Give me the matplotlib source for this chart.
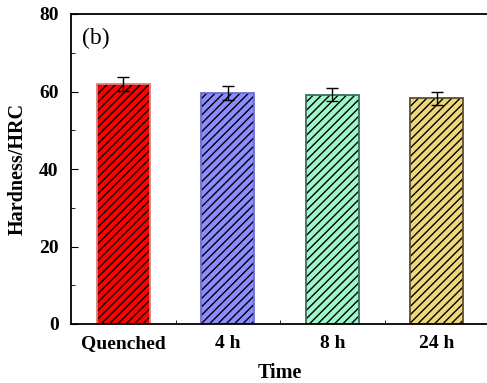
import matplotlib
matplotlib.use("Agg")
import matplotlib.pyplot as plt
from matplotlib.ticker import MultipleLocator

categories = ["Quenched", "4 h", "8 h", "24 h"]
hardness = [62.0, 59.6, 59.2, 58.2]
errors = [1.8, 1.7, 1.7, 1.8]
face_colors = ["#FF0000", "#8C8CFF", "#9EF7CB", "#EDD77A"]
edge_colors = ["#D98080", "#6A6AD8", "#3C6E55", "#5A5030"]

plt.rcParams["font.family"] = ["Liberation Serif", "DejaVu Serif"]
plt.rcParams["font.weight"] = "bold"
plt.rcParams["hatch.linewidth"] = 1.0

fig = plt.figure(figsize=(4.87, 3.83), dpi=100)
ax = fig.add_axes([71 / 487, 1 - 324 / 383, (489 - 71) / 487, (324 - 14) / 383])

x = list(range(len(categories)))
# filled bars with black diagonal hatching
ax.bar(x, hardness, width=0.51, color=face_colors, edgecolor="black",
       linewidth=0, hatch="////", zorder=2)
# coloured outlines on top
ax.bar(x, hardness, width=0.51, fill=False, edgecolor=edge_colors,
       linewidth=1.3, zorder=2.5)
ax.errorbar(x, hardness, yerr=errors, fmt="none", ecolor="black",
            elinewidth=1.0, capsize=4, capthick=1.0, zorder=3)

ax.set_xlim(-0.5, 3.5)
ax.set_ylim(0, 80)
ax.set_xticks([0, 1, 2, 3])
ax.set_xticklabels(categories, fontsize=14, fontweight="bold")
ax.set_xticks([0.5, 1.5, 2.5], minor=True)
ax.tick_params(axis="x", which="major", length=0, pad=8)
ax.tick_params(axis="x", which="minor", direction="in", length=3)
ax.yaxis.set_major_locator(MultipleLocator(20))
ax.yaxis.set_minor_locator(MultipleLocator(10))
ax.tick_params(axis="y", which="major", direction="in", length=5,
               labelsize=14, pad=9)
ax.tick_params(axis="y", which="minor", direction="in", length=3)
for lbl in ax.get_yticklabels():
    lbl.set_fontweight("bold")
for sp in ax.spines.values():
    sp.set_linewidth(1.3)

ax.set_xlabel("Time", fontsize=14.5, fontweight="bold", labelpad=8)
ax.set_ylabel("Hardness/HRC", fontsize=14.5, fontweight="bold", labelpad=8)
ax.text(0.026, 0.955, "(b)", transform=ax.transAxes, fontsize=17,
        fontweight="normal", va="top", ha="left")

fig.savefig("out.png", dpi=100)
